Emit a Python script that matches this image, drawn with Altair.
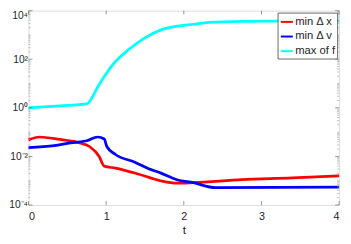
import altair as alt
import pandas as pd

# --- data ---
t_dx = [0, 0.14, 0.4, 0.66, 0.79, 0.91, 0.975, 1.12, 1.41, 1.7, 1.91, 2.12, 2.75, 3.4, 4.0]
v_dx = [0.048, 0.063, 0.050, 0.036, 0.025, 0.010, 0.004, 0.0033, 0.0019, 0.0010,
        0.00079, 0.00083, 0.0011, 0.0013, 0.0016]

t_dv = [0, 0.33, 0.54, 0.75, 0.89, 0.975, 1.01, 1.12, 1.37, 1.54, 1.7, 1.91, 2.12, 2.41, 4.0]
v_dv = [0.023, 0.028, 0.036, 0.044, 0.063, 0.052, 0.025, 0.012, 0.0058, 0.0032, 0.0021,
        0.0011, 0.00083, 0.00052, 0.00054]

t_f = [0, 0.25, 0.5, 0.75, 0.91, 1.08, 1.29, 1.5, 1.7, 1.91, 2.12, 2.33, 2.75, 3.16, 4.0]
v_f = [1.0, 1.12, 1.26, 1.45, 9.1, 57.5, 251, 759, 1585, 2291, 2754, 3311, 3631, 3715, 3800]

series_names = ["min \u0394 x", "min \u0394 v", "max of f"]
series_colors = ["#ff0000", "#0000ff", "#00ffff"]

x_ticks = [0, 1, 2, 3, 4]
y_major = [1e-4, 1e-2, 1, 1e2, 1e4]
y_labels = ["10\u207b\u2074", "10\u207b\u00b2", "10\u2070", "10\u00b2", "10\u2074"]
y_minor = [m * 10.0 ** k for k in range(-4, 4) for m in range(2, 10)] + [1e-3, 1e-1, 10, 1e3]

W, H = 318, 199

rows = []
for name, ts, vs in zip(series_names, [t_dx, t_dv, t_f], [v_dx, v_dv, v_f]):
    for t, v in zip(ts, vs):
        rows.append({"t": t, "value": v, "series": name})
df = pd.DataFrame(rows)

xs = alt.Scale(domain=[0, 4], nice=False)
ys = alt.Scale(type="log", domain=[1e-4, 1e4], nice=False)

label_expr = " : ".join(
    f"abs(log(datum.value)/log(10) - ({k})) < 0.01 ? '{lab}'"
    for k, lab in zip([-4, -2, 0, 2, 4], y_labels)
) + " : ''"

lines = alt.Chart(df).mark_line(strokeWidth=2.8, interpolate="monotone").encode(
    x=alt.X("t:Q", scale=xs,
            axis=alt.Axis(values=x_ticks, format="d", title="t", tickSize=0, labelPadding=6,
                          labelFontSize=11, titleFontSize=12, titleFontWeight="normal",
                          titlePadding=3, labelColor="#262626", titleColor="#262626",
                          domain=False, grid=False, labelFont="Liberation Sans",
                          titleFont="Liberation Sans")),
    y=alt.Y("value:Q", scale=ys,
            axis=alt.Axis(values=y_major, labelExpr=label_expr, title=None, tickSize=0,
                          labelPadding=1, labelFontSize=10.5, labelColor="#262626",
                          labelOffset=alt.expr("datum.value > 1000 ? 5 : 0"),
                          domain=False, grid=False, labelFont="Liberation Sans")),
    color=alt.Color("series:N",
                    scale=alt.Scale(domain=series_names, range=series_colors),
                    legend=alt.Legend(title=None, orient="top-right", offset=2,
                                      symbolType="stroke", symbolStrokeWidth=2,
                                      symbolSize=150, labelFontSize=11.5,
                                      labelFont="Liberation Sans", labelColor="#262626",
                                      fillColor="white", strokeColor="#666",
                                      padding=2, rowPadding=2, labelOffset=1,
                                      symbolOffset=0)),
    order="t:Q",
)

xt = pd.DataFrame({"t": x_ticks})
ymj = pd.DataFrame({"value": y_major})
ymn = pd.DataFrame({"value": y_minor})
tick_col = "#666"

xb = alt.Chart(xt).mark_rule(color=tick_col, strokeWidth=0.7).encode(
    x=alt.X("t:Q", scale=xs), y=alt.value(H), y2=alt.value(H - 4))
xtop = alt.Chart(xt).mark_rule(color=tick_col, strokeWidth=0.7).encode(
    x=alt.X("t:Q", scale=xs), y=alt.value(0), y2=alt.value(4))
yl = alt.Chart(ymj).mark_rule(color=tick_col, strokeWidth=0.7).encode(
    y=alt.Y("value:Q", scale=ys), x=alt.value(0), x2=alt.value(4))
yr = alt.Chart(ymj).mark_rule(color=tick_col, strokeWidth=0.7).encode(
    y=alt.Y("value:Q", scale=ys), x=alt.value(W), x2=alt.value(W - 4))
yln = alt.Chart(ymn).mark_rule(color="#999", strokeWidth=0.6).encode(
    y=alt.Y("value:Q", scale=ys), x=alt.value(0), x2=alt.value(2))
yrn = alt.Chart(ymn).mark_rule(color="#999", strokeWidth=0.6).encode(
    y=alt.Y("value:Q", scale=ys), x=alt.value(W), x2=alt.value(W - 2))

chart = alt.layer(lines, xb, xtop, yl, yr, yln, yrn).properties(
    width=W, height=H,
    autosize=alt.AutoSizeParams(type="none"),
    padding={"left": 21, "top": 0, "right": 4, "bottom": 29},
).configure_view(stroke="#555", strokeWidth=0.8).configure(background="white")

chart.save("out.html", embed_options={"renderer": "svg", "actions": False})
